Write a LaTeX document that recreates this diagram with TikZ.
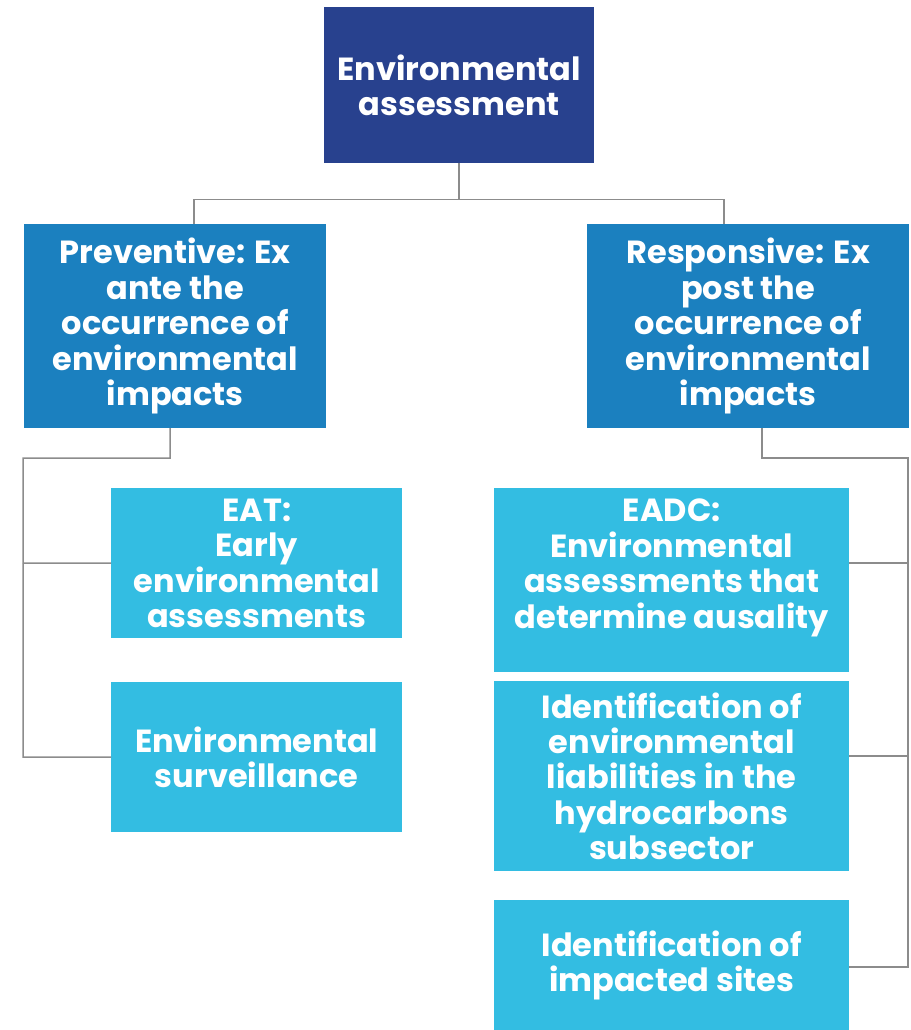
\documentclass[tikz,border=0pt]{standalone}
\usepackage{fontspec}
\setmainfont{Poppins}
\definecolor{navy}{HTML}{28418E}
\definecolor{midblue}{HTML}{1B80BF}
\definecolor{lightblue}{HTML}{33BDE2}
\definecolor{lgray}{HTML}{8C8C8C}
\tikzset{
  boxbase/.style={rectangle, anchor=north west, inner sep=0pt, text=white,
    align=center, font=\fontsize{32}{35.4}\selectfont\bfseries},
  topbox/.style={boxbase, fill=navy},
  midbox/.style={boxbase, fill=midblue},
  leafbox/.style={boxbase, fill=lightblue},
  conn/.style={draw=lgray, line width=1.5pt}
}
\begin{document}
\begin{tikzpicture}[x=1pt,y=-1pt]
\useasboundingbox (0,0) rectangle (910,1030);
% boxes
\node[topbox, minimum width=270pt, minimum height=156pt] (top) at (324,7)
  {Environmental\\assessment};
\node[midbox, minimum width=302pt, minimum height=204pt] (prev) at (24,224)
  {\strut Preventive: Ex\\ante the\\occurrence of\\environmental\\impacts};
\node[midbox, minimum width=322pt, minimum height=204pt] (resp) at (587,224)
  {\strut Responsive: Ex\\post the\\occurrence of\\environmental\\impacts};
\node[leafbox, minimum width=291pt, minimum height=150pt] (eat) at (111,488)
  {EAT:\\Early\\environmental\\assessments};
\node[leafbox, minimum width=291pt, minimum height=150pt] (surv) at (111,682)
  {Environmental\\surveillance};
\node[leafbox, minimum width=355pt, minimum height=184pt] (eadc) at (494,488) {};
\node[boxbase] (eadctext) at (494,499)
  {\begin{minipage}{355pt}\centering EADC:\\Environmental\\assessments that\\determine ausality\end{minipage}};
\node[leafbox, minimum width=355pt, minimum height=190pt] (idliab) at (494,681)
  {Identification of\\environmental\\liabilities in the\\hydrocarbons\\subsector};
\node[leafbox, minimum width=355pt, minimum height=130pt] (idsites) at (494,900)
  {Identification of\\impacted sites};
% connector coordinates
\coordinate (pTop) at (194,224);
\coordinate (rTop) at (724,224);
\coordinate (pBot) at (170,428);
\coordinate (lbus1) at (23,458);
\coordinate (lbusEat) at (23,563);
\coordinate (lbusSurv) at (23,757);
\coordinate (rBot) at (762,428);
\coordinate (rbus1) at (908,458);
\coordinate (rbusA) at (908,563);
\coordinate (rbusB) at (908,756);
\coordinate (rbusC) at (908,967);
\coordinate (eadcR) at (849,563);
\coordinate (idliabR) at (849,756);
\coordinate (idsitesR) at (849,967);
% connectors
\draw[conn] (top.south) -- ++(0,36) -| (pTop);
\draw[conn] (top.south) -- ++(0,36) -| (rTop);
\draw[conn] (pBot) |- (lbus1) -- (lbusSurv) -- (surv.west);
\draw[conn] (lbusEat) -- (eat.west);
\draw[conn] (rBot) |- (rbus1) -- (rbusC) -- (idsitesR);
\draw[conn] (rbusA) -- (eadcR);
\draw[conn] (rbusB) -- (idliabR);
\end{tikzpicture}
\end{document}
